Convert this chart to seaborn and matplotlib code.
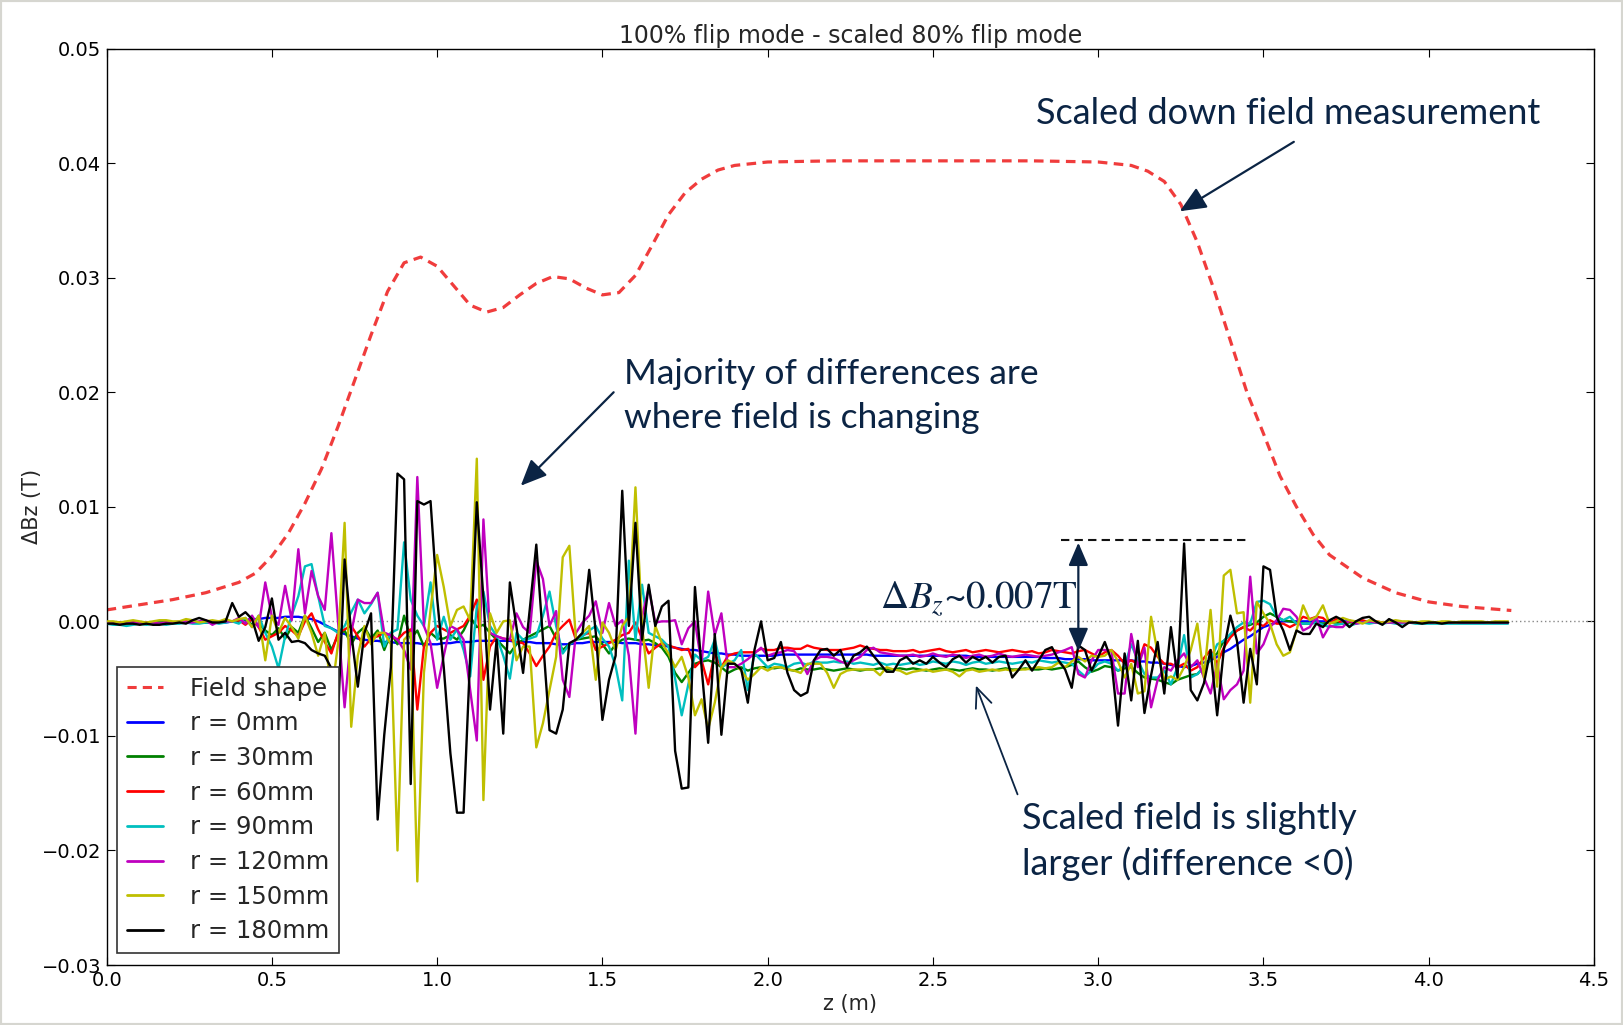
import numpy as np
import pandas as pd
import matplotlib
matplotlib.use("Agg")
import matplotlib.pyplot as plt
from matplotlib.lines import Line2D
from matplotlib.patches import Rectangle
import seaborn as sns

# ---------------- data (values in mT, sampled every 0.02 m from z = 0) ----------------
z_step = 0.02

field_z = [0.0, 0.2, 0.3, 0.4, 0.45, 0.5, 0.55, 0.6, 0.65, 0.7, 0.75, 0.8, 0.85, 0.9, 0.95,
           1.0, 1.05, 1.1, 1.15, 1.2, 1.25, 1.3, 1.35, 1.4, 1.45, 1.5, 1.55, 1.6, 1.65, 1.7,
           1.75, 1.8, 1.85, 1.9, 2.0, 2.2, 2.5, 2.8, 3.0, 3.1, 3.15, 3.2, 3.25, 3.3, 3.35,
           3.4, 3.45, 3.5, 3.55, 3.6, 3.65, 3.7, 3.8, 3.9, 4.0, 4.1, 4.25]
field_mT = [1.0, 1.9, 2.5, 3.4, 4.2, 5.7, 7.7, 10.3, 13.3, 17.0, 21.0, 25.0, 28.8, 31.3, 31.8,
            31.0, 29.3, 27.6, 27.0, 27.4, 28.5, 29.5, 30.1, 29.9, 29.1, 28.5, 28.7, 30.2, 32.8, 35.5,
            37.4, 38.6, 39.4, 39.8, 40.1, 40.2, 40.2, 40.2, 40.1, 39.8, 39.3, 38.4, 36.4, 33.1, 29.0,
            24.5, 20.0, 16.4, 12.7, 10.0, 7.6, 5.8, 3.8, 2.5, 1.7, 1.3, 0.95]

r0_mT = [
    -0.1, -0.1, -0.1, -0.1, -0.1, -0.1, -0.1, -0.1, -0.1, -0.1, -0.1, -0.1, -0.1, -0.1, -0.1, -0.1, -0.1, -0.1, -0.1,
    0.0, 0.1, 0.1, 0.2, 0.2, 0.3, 0.3, 0.3, 0.4, 0.4, 0.4, 0.3, 0.2, 0.0, -0.3, -0.6, -0.9, -1.1, -1.3, -1.5,
    -1.6, -1.7, -1.7, -1.8, -1.8, -1.9, -1.9, -1.9, -1.9, -2.0, -2.0, -2.0,
    -1.9, -1.9, -1.8, -1.8, -1.8, -1.7, -1.7, -1.7, -1.7, -1.7, -1.7, -1.8, -1.8, -1.8, -1.9, -1.9, -1.9, -2.0, -2.0, -2.0,
    -1.9, -1.9, -1.8, -1.8, -1.8, -1.8, -1.8, -1.9, -1.9, -1.9, -2.0, -2.0, -2.1, -2.1, -2.2, -2.3, -2.4, -2.5,
    -2.5, -2.6, -2.7, -2.8, -2.8, -2.9, -2.9, -3.0, -3.0, -3.0, -3.0, -3.0, -3.0, -2.9, -2.9, -2.9, -2.9, -2.9, -2.9, -2.9,
    -2.9, -2.9, -2.9, -2.9, -2.9, -2.9, -2.9, -3.0, -3.0, -3.0, -3.0, -3.0,
    -3.0, -3.0, -3.0, -3.0, -3.0, -3.0, -3.0, -3.0, -3.0, -3.0, -3.1, -3.1, -3.1, -3.1, -3.1, -3.1, -3.1, -3.1, -3.1, -3.1,
    -3.1, -3.2, -3.2, -3.2, -3.3, -3.3, -3.3, -3.3, -3.4, -3.4, -3.4, -3.4, -3.4, -3.4,
    -3.4, -3.5, -3.5, -3.6, -3.6, -3.7, -3.8, -3.9, -4.0, -3.9, -3.7, -3.6, -3.4, -3.1, -2.7, -2.4, -2.0, -1.6, -1.3, -0.9,
    -0.5, -0.3, -0.1, 0.0, 0.0, 0.0, 0.0, 0.0, 0.0, 0.0, 0.0,
    0.0, 0.0, 0.0, 0.0, -0.1, -0.1, -0.1, -0.1, -0.1, -0.1, -0.1, -0.1, -0.1, -0.1, -0.1, -0.1, -0.1, -0.1, -0.1, -0.1,
    -0.1, -0.1, -0.1, -0.1, -0.1, -0.1, -0.1]

r30_mT = [
    -0.1, -0.1, -0.2, -0.1, -0.1, -0.1, -0.2, -0.1, -0.1, -0.1, -0.1, -0.1, -0.1, 0.0, -0.1, -0.1, 0.0, -0.1, 0.0,
    0.0, -0.1, 0.2, -0.3, -0.2, -0.8, -1.2, -0.6, -1.5, -0.5, -1.0, 0.5, -0.6, -1.8, -1.0, -2.5, -1.2, -0.8, -2.0, -1.0,
    -0.5, -1.5, -0.8, -2.5, -1.0, -2.0, 0.5, -1.5, -0.8, -2.2, -1.0, -1.5,
    -1.5, -1.2, -1.6, -0.8, 0.4, -0.5, -0.3, -1.0, -1.6, -2.2, -2.8, -2.0, -1.6, -1.3, -1.0, -0.7, -0.4, -1.5, -2.5, -2.0,
    -1.6, -1.5, -1.4, -1.3, -2.0, -2.8, -2.0, -1.6, -1.5, -1.6, -1.7, -1.6, -1.9, -2.3, -3.1, -4.5, -5.3, -4.5,
    -3.7, -3.5, -3.4, -3.6, -4.0, -4.5, -4.2, -4.0, -4.3, -4.1, -4.0, -4.0, -4.1, -4.0, -4.2, -4.3, -4.1, -4.2, -4.2, -4.1,
    -4.2, -4.3, -4.2, -4.1, -4.2, -4.3, -4.2, -4.2, -4.1, -4.2, -4.2, -4.1,
    -4.2, -4.1, -4.2, -4.3, -4.2, -4.1, -4.2, -4.2, -4.3, -4.2, -4.1, -4.2, -4.2, -4.3, -4.2, -4.1, -4.2, -4.2, -4.1, -4.2,
    -4.2, -4.1, -4.2, -4.1, -4.0, -3.8, -3.5, -4.0, -4.4, -4.2, -3.9, -4.0, -4.3, -4.1,
    -4.0, -4.5, -4.9, -5.0, -5.1, -5.3, -5.5, -5.1, -4.9, -4.7, -4.6, -4.0, -3.3, -2.8, -1.7, -1.2, -0.8, -0.5, -0.3, -0.1,
    0.4, 0.7, 0.4, 0.1, 0.0, -0.1, -0.2, -0.2, -0.1, -0.2, -0.1,
    -0.1, -0.2, -0.1, -0.1, 0.0, -0.1, -0.1, -0.1, -0.1, -0.1, -0.1, -0.1, -0.1, -0.1, -0.1, -0.1, -0.1, -0.1, -0.1, -0.1,
    -0.1, -0.1, -0.1, -0.1, -0.1, -0.1, -0.1]

r60_mT = [
    -0.1, -0.1, -0.1, -0.2, -0.1, -0.1, -0.1, -0.1, -0.2, -0.1, -0.1, -0.1, 0.0, -0.1, -0.1, 0.0, -0.1, -0.1, 0.0,
    0.0, 0.1, -0.3, 0.2, -0.5, -1.6, -1.3, -1.0, -0.4, -0.8, -1.3, 0.0, 0.7, -0.7, -1.8, -2.8, -1.0, -0.7, -0.4, -1.3,
    -2.2, -1.5, -1.3, -1.0, -1.3, -1.6, -1.0, -0.7, -7.7, -2.2, -1.0, -0.4,
    -0.7, -1.0, -0.7, -0.4, 0.5, 1.9, -5.1, -2.2, -1.3, -1.5, -1.6, -1.8, -1.9, -2.8, -3.9, -3.0, -2.2, -1.0, -0.4, 0.15,
    -1.6, -1.2, -1.0, -2.5, -2.2, -1.9, -1.6, -1.2, -1.0, -0.1, -1.5, -2.8, -2.3, -1.9, -2.1, -2.3, -2.5, -2.4,
    -4.0, -3.4, -5.5, -2.8, -4.0, -3.0, -2.8, -2.7, -2.7, -2.7, -2.4, -2.5, -2.5, -2.3, -2.3, -2.4, -2.4, -2.1, -2.3, -2.4,
    -2.5, -2.5, -2.5, -2.4, -2.3, -2.1, -2.3, -2.4, -2.5, -2.5, -2.6, -2.6,
    -2.6, -2.5, -2.7, -2.6, -2.5, -2.4, -2.6, -2.7, -2.6, -2.5, -2.7, -2.6, -2.5, -2.6, -2.7, -2.6, -2.5, -2.6, -2.7, -2.6,
    -2.8, -2.7, -2.5, -2.6, -2.7, -2.8, -2.6, -2.5, -2.8, -3.1, -2.7, -2.5, -3.0, -3.7,
    -3.4, -3.7, -2.0, -2.3, -3.1, -3.7, -3.7, -4.0, -3.7, -4.3, -4.0, -3.2, -2.5, -3.7, -2.3, -1.4, -0.8, -0.5, -0.8, -0.2,
    -0.4, 0.1, -0.2, -0.2, -0.5, -0.2, 0.4, 0.2, 0.4, 0.3, -0.2,
    0.2, -0.2, 0.0, -0.1, 0.1, -0.1, 0.0, -0.1, -0.1, 0.0, -0.1, -0.1, -0.1, -0.1, -0.1, -0.1, -0.1, -0.1, -0.1, -0.1,
    -0.1, -0.1, -0.1, -0.1, -0.1, -0.1, -0.1]

r90_mT = [
    -0.2, -0.3, -0.3, -0.4, -0.3, -0.2, -0.3, -0.2, -0.2, -0.3, -0.2, -0.2, -0.1, -0.2, -0.2, -0.1, -0.1, -0.2, -0.1,
    0.0, -0.2, 0.3, -0.5, 0.5, -1.0, -2.2, -4.1, -1.3, 0.5, 2.2, 4.8, 5.0, 2.2, -0.4, -0.6, -1.0, -0.4, 0.8, 1.9,
    0.7, 1.5, 2.5, -2.2, -1.0, -0.7, 6.9, 1.9, 0.5, -0.4, 3.4, -1.6,
    0.4, -1.6, -0.7, -2.5, -4.8, 1.3, 2.6, -0.4, -1.3, -3.0, -5.0, -1.0, -1.6, -1.5, -1.3, 0.5, 2.6, -0.4, -2.8, -2.0,
    -1.6, -1.3, -0.8, -0.4, -1.5, -2.2, -3.9, -6.9, 5.3, -1.6, 3.2, -1.0, -1.3, -1.6, -2.2, -5.0, -8.2, -5.5,
    -2.9, -3.4, -3.1, -1.6, -4.0, -3.7, -3.4, -2.5, -6.0, -2.8, -3.4, -4.0, -3.7, -3.8, -4.0, -3.7, -3.6, -3.8, -3.5, -3.6,
    -3.6, -3.5, -3.6, -3.5, -3.7, -3.6, -3.7, -3.8, -3.6, -3.8, -3.7, -3.8,
    -3.7, -3.6, -3.8, -3.7, -3.5, -3.6, -3.7, -3.5, -3.6, -3.8, -3.6, -3.5, -3.7, -3.6, -3.5, -3.6, -3.7, -3.6, -3.5, -3.6,
    -3.4, -3.5, -3.6, -3.5, -3.6, -3.7, -4.3, -4.8, -4.3, -3.7, -3.5, -3.7, -4.3, -3.9,
    -2.0, -3.4, -4.6, -4.9, -4.9, -4.3, -5.5, -4.0, -1.2, -4.9, -4.6, -4.0, -3.4, -2.0, -1.7, -1.1, -0.5, -0.1, -0.2, 1.7,
    1.8, 1.5, 0.4, 0.1, 0.4, -0.2, -0.2, -0.2, -0.1, -0.3, -0.5,
    -0.3, -0.2, -0.4, -0.2, -0.1, -0.2, -0.1, -0.2, -0.1, -0.2, -0.2, -0.1, -0.2, -0.2, -0.2, -0.2, -0.2, -0.2, -0.2, -0.2,
    -0.2, -0.2, -0.2, -0.2, -0.2, -0.2, -0.2]

r120_mT = [
    -0.1, -0.1, -0.2, -0.1, -0.1, -0.2, -0.1, -0.1, -0.2, -0.1, -0.1, 0.0, -0.1, -0.1, 0.0, 0.1, -0.3, 0.0, 0.0,
    0.0, 0.3, -0.2, 0.5, -0.5, 3.4, 0.4, -0.3, 3.1, 0.1, 6.3, 0.7, 4.4, 2.2, 1.0, 7.7, 0.0, -7.5, -1.0, 1.9,
    1.6, 1.6, 2.5, -1.0, -1.2, -1.6, -2.5, -4.2, 12.6, -0.4, -1.9, -5.8,
    -3.0, -0.4, -0.7, -1.6, -6.0, -10.4, 8.9, -1.0, -1.3, -1.5, -1.6, 0.7, -0.5, -1.0, 5.3, 3.7, -0.4, 0.9, -5.1, -6.6,
    -1.0, -0.1, 0.5, 1.75, -1.0, 1.6, -0.4, 0.1, -3.0, -9.8, 0.4, 2.9, -0.1, 0.0, 0.0, 0.1, -2.0, -0.6,
    0.0, -3.7, 2.6, -1.2, 0.7, -4.0, -4.0, -3.7, -3.3, -2.8, -2.3, -3.0, -2.8, -2.7, -2.5, -2.6, -3.4, -4.6, -3.4, -3.1,
    -3.1, -3.2, -3.5, -3.7, -3.4, -3.1, -2.5, -2.3, -2.7, -2.8, -2.9, -3.0,
    -3.0, -2.9, -3.1, -3.0, -2.8, -3.0, -3.1, -2.9, -3.0, -3.2, -3.0, -2.9, -3.1, -3.0, -2.8, -3.0, -3.1, -3.0, -2.9, -3.0,
    -3.1, -3.0, -2.9, -2.7, -2.5, -2.25, -4.6, -4.9, -3.4, -2.5, -2.5, -2.6, -6.3, -6.3,
    -1.1, -4.0, -2.3, -7.5, -5.1, -4.0, -4.3, -3.4, -2.8, -4.0, -3.4, -4.9, -6.3, -3.7, -6.8, -6.0, -5.5, -4.3, 3.9, -2.8,
    -2.0, -0.5, 0.1, 1.1, 1.0, 0.4, -0.8, -0.5, 0.4, -1.4, -0.4,
    -0.5, -0.5, 0.1, -0.2, -0.1, 0.0, -0.1, -0.1, -0.1, -0.1, -0.1, -0.1, -0.1, -0.1, -0.1, -0.1, -0.1, -0.1, -0.1, -0.1,
    -0.1, -0.1, -0.1, -0.1, -0.1, -0.1, -0.1]

r150_mT = [
    0.0, 0.0, -0.1, 0.0, 0.1, 0.0, -0.1, 0.0, 0.1, 0.1, 0.0, 0.0, 0.2, 0.1, -0.1, 0.0, 0.1, 0.0, 0.2,
    0.0, 0.2, 0.3, -0.5, 0.5, -3.4, 0.5, -1.0, 0.3, -0.5, -1.5, 0.5, -1.0, -3.0, -1.0, -6.5, -2.0, 8.6, -9.2, -3.0,
    -0.4, -2.0, -1.0, -1.0, -2.0, -20.0, -1.6, -1.0, -22.7, -4.5, 1.0, 5.8,
    3.0, -0.4, 1.0, 1.3, 0.1, 14.2, -15.6, 0.7, -1.0, 0.0, 0.1, -3.4, -2.2, -2.2, -11.0, -8.9, -6.0, -3.1, 5.6, 6.6,
    -1.6, -1.0, -0.4, -5.1, -0.1, -1.0, -2.5, -0.4, 0.4, 11.7, -0.4, -5.8, -0.4, -1.9, -2.8, -4.0, -3.1, -4.9,
    -8.2, -6.8, -9.4, -7.1, -4.0, -3.4, -3.7, -4.3, -5.1, -4.6, -4.0, -4.3, -4.0, -4.0, -4.2, -4.3, -4.5, -3.7, -3.7, -3.7,
    -4.5, -5.8, -4.6, -4.3, -4.2, -4.2, -4.2, -4.2, -4.7, -4.0, -4.2, -4.3,
    -4.6, -4.4, -4.3, -4.2, -4.4, -4.3, -4.2, -4.4, -4.8, -4.3, -4.2, -4.4, -4.3, -4.2, -4.3, -4.2, -4.3, -4.2, -4.2, -4.1,
    -4.0, -4.1, -4.0, -3.6, -4.0, -3.5, -3.1, -3.5, -3.0, -3.1, -3.0, -2.5, -3.5, -4.9,
    -3.7, -6.3, -6.1, 0.4, -2.8, -5.1, -4.8, -5.1, -4.0, -2.5, -0.2, -4.9, 1.0, -5.7, 4.0, 4.5, 0.7, 0.8, -7.1, 1.7,
    0.7, -0.2, -2.0, -3.0, -2.7, -0.8, 1.4, 0.1, 0.4, 1.4, -0.2,
    0.0, 0.3, 0.1, 0.0, -0.2, 0.1, 0.0, -0.1, 0.0, 0.1, 0.0, 0.0, -0.1, 0.0, 0.0, -0.1, 0.0, 0.0, -0.1, 0.0,
    0.0, 0.0, 0.0, -0.1, 0.0, 0.0, 0.0]

r180_mT = [
    -0.2, -0.2, -0.3, -0.2, -0.2, -0.3, -0.2, -0.3, -0.3, -0.2, -0.2, -0.1, -0.2, 0.1, 0.3, 0.1, -0.1, -0.1, 0.0,
    1.6, 0.4, 0.8, 0.2, -1.7, -0.5, 2.0, -1.6, -1.0, -1.8, -1.7, -1.9, -2.5, -2.8, -3.0, -4.1, -8.3, 5.4, -1.0, -5.7,
    -1.0, 0.7, -17.3, -9.9, -4.0, 12.9, 12.4, -14.2, 10.5, 10.2, 10.5, 2.0,
    -4.0, -11.5, -16.7, -16.7, -3.0, 10.4, 2.0, -7.7, -1.6, -9.8, 3.4, -0.5, -4.5, 1.0, 6.7, -1.5, -9.5, -9.8, -7.7, -1.9,
    -1.6, -1.0, 4.5, -1.0, -8.6, -5.1, -3.0, 11.4, -0.4, 8.6, -1.6, 3.2, -0.4, 1.3, 1.8, -11.3, -14.6, -14.5,
    3.0, -4.0, -10.6, -1.1, -9.9, -3.7, -3.7, -4.2, -7.1, -2.5, 0.0, -3.4, -3.2, -1.8, -4.5, -6.0, -6.5, -6.2, -3.4, -2.5,
    -2.4, -3.0, -2.5, -4.0, -3.0, -2.7, -2.2, -3.0, -3.7, -4.4, -4.4, -3.4,
    -3.1, -3.7, -3.4, -3.7, -3.1, -3.6, -4.0, -3.3, -3.0, -3.6, -3.1, -3.4, -3.1, -3.6, -3.1, -3.0, -4.9, -4.2, -3.4, -4.3,
    -3.4, -2.5, -2.25, -3.4, -4.2, -5.8, -2.1, -2.5, -4.3, -3.1, -1.8, -3.4, -9.1, -2.8,
    -6.9, -1.7, -8.0, -4.7, -1.8, -6.3, -0.5, -4.9, 6.8, -6.0, -6.9, -5.4, -2.5, -8.2, -2.5, 0.5, -1.7, -7.1, -2.4, -5.5,
    4.8, 4.5, 0.4, -0.8, -2.5, -0.8, -1.1, -1.1, -0.2, -0.5, 0.1,
    0.4, 0.1, -0.5, 0.0, 0.3, 0.4, 0.0, -0.3, 0.2, -0.1, -0.5, -0.1, -0.1, -0.2, -0.1, -0.1, -0.2, -0.1, -0.1, -0.1,
    -0.1, -0.1, -0.1, -0.1, -0.1, -0.1, -0.1]

series_labels = ["r = 0mm", "r = 30mm", "r = 60mm", "r = 90mm",
                 "r = 120mm", "r = 150mm", "r = 180mm"]
series_values = [r0_mT, r30_mT, r60_mT, r90_mT, r120_mT, r150_mT, r180_mT]
series_colors = ["#0000ff", "#008000", "#ff0000", "#00bfbf",
                 "#bf00bf", "#bfbf00", "#000000"]
field_label = "Field shape"
field_color = "#f03c3c"

x_ticks = [0.0, 0.5, 1.0, 1.5, 2.0, 2.5, 3.0, 3.5, 4.0, 4.5]
y_ticks = [-0.03, -0.02, -0.01, 0.00, 0.01, 0.02, 0.03, 0.04, 0.05]

title_text = "100% flip mode - scaled 80% flip mode"
navy = "#0b2444"

# ---------------- style ----------------
sns.set_style("ticks")
plt.rcParams["font.family"] = ["DejaVu Sans"]
plt.rcParams["mathtext.fontset"] = "stix"
annot_font = ["Lato", "DejaVu Sans"]

fig = plt.figure(figsize=(16.23, 10.25), dpi=100)
ax = fig.add_axes([0.0657, 0.0585, 0.9164, 0.8941])

# long-form data frame
frames = []
for lab, vals in zip(series_labels, series_values):
    z = np.arange(len(vals)) * z_step
    frames.append(pd.DataFrame({"z": z, "dBz": np.asarray(vals) * 1e-3, "series": lab}))
df = pd.concat(frames, ignore_index=True)

ax.axhline(0.0, color="#888888", ls=(0, (1, 2)), lw=1.0, zorder=1)

dash = (0, (3.0, 2.0))
sns.lineplot(x=np.asarray(field_z), y=np.asarray(field_mT) * 1e-3, color=field_color,
             linestyle=dash, lw=2.3, ax=ax, zorder=2)

sns.lineplot(data=df, x="z", y="dBz", hue="series", hue_order=series_labels,
             palette=dict(zip(series_labels, series_colors)), estimator=None,
             sort=False, lw=1.7, ax=ax, legend=False, zorder=3)

ax.set_xlim(0, 4.5)
ax.set_ylim(-0.03, 0.05)
ax.set_xticks(x_ticks)
ax.set_yticks(y_ticks)
ax.set_xticklabels([f"{v:.1f}" for v in x_ticks])
ax.set_yticklabels([f"{v:.2f}".replace("-", "\u2212") for v in y_ticks])
ax.tick_params(direction="in", top=True, right=True, length=6, width=0.8,
               labelsize=14, pad=4, colors="black")
for sp in ax.spines.values():
    sp.set_visible(True)
    sp.set_color("black")
    sp.set_linewidth(1.0)

ax.set_title(title_text, fontsize=17, pad=4)
ax.set_xlabel("z (m)", fontsize=15, labelpad=3)
ax.set_ylabel("\u0394Bz (T)", fontsize=15, labelpad=0)

# legend
handles = [Line2D([], [], color=field_color, linestyle=dash, lw=2.2)]
handles += [Line2D([], [], color=c, lw=2.0) for c in series_colors]
leg = ax.legend(handles, [field_label] + series_labels, loc="lower left",
                bbox_to_anchor=(0.007, 0.013), fontsize=17.5, frameon=True,
                fancybox=False, edgecolor="#333333", framealpha=1,
                handlelength=1.5, handletextpad=1.1, labelspacing=0.44,
                borderpad=0.4, borderaxespad=0)
leg.get_frame().set_linewidth(1.2)

# annotations
ax.text(2.812, 0.0443, "Scaled down field measurement", ha="left", va="center",
        fontsize=26, color=navy, family=annot_font)
ax.annotate("", xy=(3.247, 0.0358), xytext=(3.592, 0.04186),
            arrowprops=dict(arrowstyle="-|>,head_length=0.8,head_width=0.35",
                            color=navy, lw=1.6, shrinkA=0, shrinkB=0, mutation_scale=20))

ax.text(1.566, 0.0197, "Majority of differences are\nwhere field is changing",
        ha="left", va="center", fontsize=25.5, color=navy, family=annot_font,
        linespacing=1.45)
ax.annotate("", xy=(1.253, 0.01184), xytext=(1.534, 0.0200),
            arrowprops=dict(arrowstyle="-|>,head_length=0.8,head_width=0.35",
                            color=navy, lw=1.6, shrinkA=0, shrinkB=0, mutation_scale=20))

ax.text(2.771, -0.0192, "Scaled field is slightly\nlarger (difference <0)",
        ha="left", va="center", fontsize=26, color=navy, family=annot_font,
        linespacing=1.4)
ax.annotate("", xy=(2.630, -0.0056), xytext=(2.756, -0.0151),
            arrowprops=dict(arrowstyle="->,head_length=0.7,head_width=0.3",
                            color=navy, lw=1.3, shrinkA=0, shrinkB=0, mutation_scale=20))

peak_level = 0.00714
ax.plot([2.887, 3.46], [peak_level, peak_level], color="#111111", ls=(0, (4, 2.5)), lw=1.5, zorder=4)
ax.annotate("", xy=(2.94, -0.0026), xytext=(2.94, 0.00687),
            arrowprops=dict(arrowstyle="<|-|>,head_length=0.7,head_width=0.3",
                            color=navy, lw=1.6, shrinkA=0, shrinkB=0, mutation_scale=20))
ax.text(2.936, 0.0019, r"$\Delta B_z$~0.007T", ha="right", va="center",
        fontsize=28, color=navy, family="STIXGeneral")

fig.patches.append(Rectangle((0, 0), 1, 1, transform=fig.transFigure, fill=False,
                             edgecolor="#d6d6d0", lw=3))

fig.savefig("out.png", dpi=100, facecolor="white")
